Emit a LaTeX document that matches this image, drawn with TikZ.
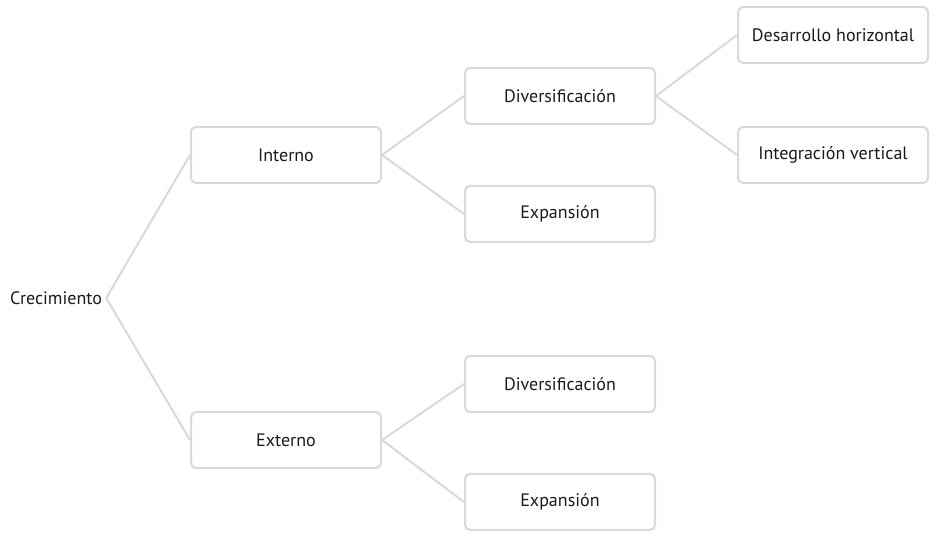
\documentclass[tikz,border=0pt]{standalone}
\usepackage{fontspec}
\setmainfont{PT Sans}
\usepackage{tikz}
\usetikzlibrary{positioning}
\definecolor{linegray}{HTML}{D9D9D9}
\definecolor{textdark}{HTML}{1A1A1A}

\begin{document}
\begin{tikzpicture}[x=1pt, y=-1pt,
      box/.style={
        shape=rectangle,
        rounded corners=5pt,
        draw=linegray,
        line width=2pt,
        fill=white,
        minimum width=190pt,
        minimum height=56pt,
        text=textdark,
        font=\fontsize{18}{21}\selectfont,
      },
      root/.style={
        inner sep=4pt,
        text=textdark,
        font=\fontsize{18}{21}\selectfont,
      },
      link/.style={draw=linegray, line width=2pt}]
      \useasboundingbox (0,0) rectangle (930,534);
      \node[root] (crec) at (56,298) {Crecimiento};
      \node[box] (int) at (286,155) {Interno};
      \node[box] (ext) at (286,440) {Externo};
      \node[box] (div1) at (560,96) {Diversificación};
      \node[box] (exp1) at (560,214) {Expansión};
      \node[box] (div2) at (560,384) {Diversificación};
      \node[box] (exp2) at (560,502) {Expansión};
      \node[box] (desh) at (833,35) {Desarrollo horizontal};
      \node[box] (intv) at (833,155) {Integración vertical};
      \draw[link] (crec.east) -- (int.west);
      \draw[link] (crec.east) -- (ext.west);
      \draw[link] (int.east) -- (div1.west);
      \draw[link] (int.east) -- (exp1.west);
      \draw[link] (ext.east) -- (div2.west);
      \draw[link] (ext.east) -- (exp2.west);
      \draw[link] (div1.east) -- (desh.west);
      \draw[link] (div1.east) -- (intv.west);
    \end{tikzpicture}
\end{document}
